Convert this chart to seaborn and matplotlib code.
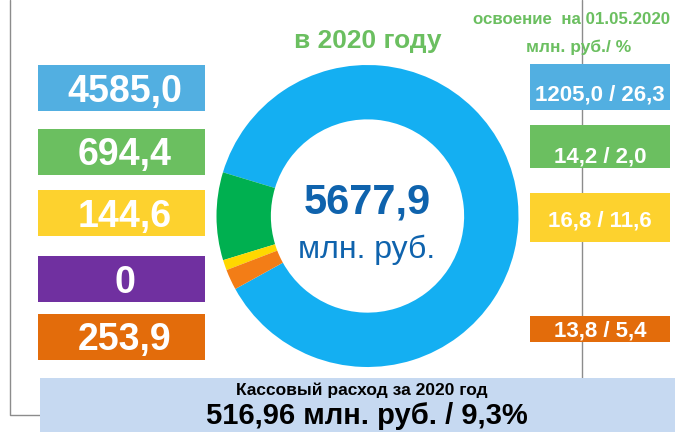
import matplotlib
matplotlib.use('Agg')
import matplotlib.pyplot as plt
from matplotlib.patches import Rectangle
import seaborn as sns

# данные
plan_values = [4585.0, 694.4, 144.6, 0.0, 253.9]
done_values = [1205.0, 14.2, 16.8, None, 13.8]
done_pct = [26.3, 2.0, 11.6, None, 5.4]
# доли секторов кольца, оценены по рисунку (%)
donut_shares = [87.3, 9.4, 1.1, 0.0, 2.2]
total_plan = 5677.9
cash_total = 516.96
cash_pct = 9.3

slice_colors = ['#14AFF2', '#00B050', '#FFD800', '#7030A0', '#F37D16']
box_colors = ['#52AFE1', '#6BBF60', '#FDD22E', '#7030A0', '#E36C0B']
green_txt = '#6BBF60'
dark_blue = '#0F63AD'

def fmt(v):
    return f'{v:.1f}'.replace('.', ',')

sns.set_theme(style='white')
plt.rcParams['font.family'] = ['Liberation Sans', 'DejaVu Sans']

fig = plt.figure(figsize=(6.81, 4.32), dpi=100)
bg = fig.add_axes([0, 0, 1, 1])
bg.set_xlim(0, 681)
bg.set_ylim(432, 0)
bg.axis('off')

# рамка (под плашками)
bg.plot([10, 10, 40], [0, 415, 415], color='#8C8C8C', lw=1, zorder=0.5)
bg.plot([582, 582], [0, 378], color='#8C8C8C', lw=1, zorder=0.5)

# кольцо
ax = fig.add_axes([216.5 / 681, 1 - 367 / 432, 302 / 681, 302 / 432])
ax.pie(donut_shares, colors=sns.color_palette(slice_colors), startangle=208.9,
       counterclock=True, radius=1,
       wedgeprops=dict(width=0.36, edgecolor='none'))
ax.set_xlim(-1, 1)
ax.set_ylim(-1, 1)
ax.set_aspect('equal')
ax.axis('off')

bg.text(367, 214, fmt(total_plan), ha='center', va='baseline', color=dark_blue,
        fontsize=30, fontweight='bold')
bg.text(367, 258, 'млн. руб.', ha='center', va='baseline', color=dark_blue,
        fontsize=23)

# заголовки
bg.text(368, 48, 'в 2020 году', ha='center', va='baseline', color=green_txt,
        fontsize=19, fontweight='bold')
bg.text(572, 24, 'освоение  на 01.05.2020', ha='center', va='baseline',
        color=green_txt, fontsize=12.2, fontweight='bold')
bg.text(579, 52, 'млн. руб./ %', ha='center', va='baseline',
        color=green_txt, fontsize=12.5, fontweight='bold')

# левые плашки
left_boxes = [(65, 111), (129, 175), (190, 236), (256, 302), (314, 360)]
left_base = [102, 165, 227, 293, 350]
for i, v in enumerate(plan_values):
    y0, y1 = left_boxes[i]
    bg.add_patch(Rectangle((38, y0), 167, y1 - y0, color=box_colors[i], lw=0))
    lab = '0' if v == 0 else fmt(v)
    bg.text(125, left_base[i], lab, ha='center', va='baseline', color='white',
            fontsize=27, fontweight='bold')

# правые плашки
right_boxes = [(64, 110), (125, 168), (193, 242), None, (316, 342)]
right_base = [101, 163, 227, None, 337]
for i, v in enumerate(done_values):
    if v is None:
        continue
    y0, y1 = right_boxes[i]
    bg.add_patch(Rectangle((530, y0), 140, y1 - y0, color=box_colors[i], lw=0))
    bg.text(600, right_base[i], f'{fmt(v)} / {fmt(done_pct[i])}', ha='center',
            va='baseline', color='white', fontsize=16, fontweight='bold')

# кассовый расход
bg.add_patch(Rectangle((40, 378), 635, 54, color='#C6D9F1', lw=0))
bg.text(362, 395, 'Кассовый расход за 2020 год', ha='center', va='baseline',
        color='black', fontsize=12.5, fontweight='bold')
bg.text(367, 424, f'{cash_total:.2f}'.replace('.', ',') + ' млн. руб. / '
        + fmt(cash_pct) + '%', ha='center', va='baseline', color='black',
        fontsize=21, fontweight='bold')

fig.savefig('out.png', dpi=100)
